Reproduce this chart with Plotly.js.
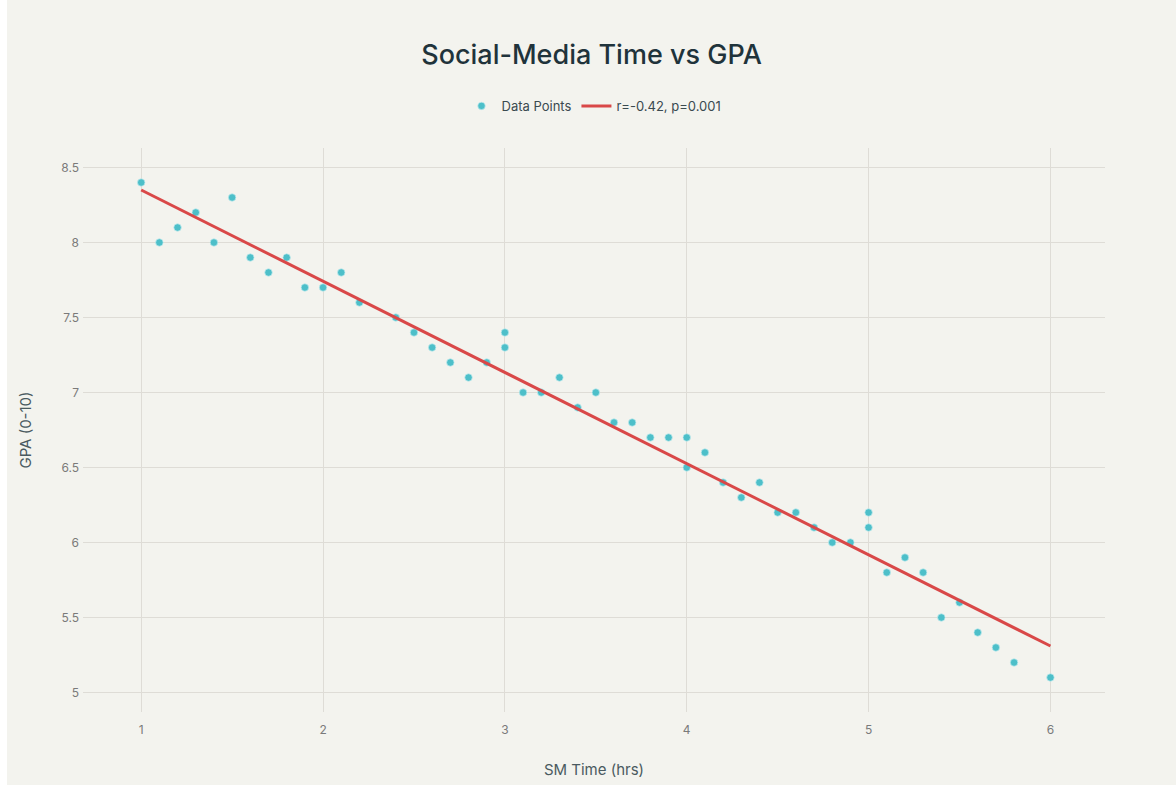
<!DOCTYPE html>
<html>
<head>
<meta charset="utf-8">
<script src="https://cdn.plot.ly/plotly-3.0.1.min.js"></script>
<style>
  html, body { margin: 0; padding: 0; background: #ffffff; }
  #chart { position: absolute; left: 7px; top: 0; width: 1169px; height: 785px; }
</style>
</head>
<body>
<div id="chart"></div>
<script>
// Social-media time (hours) per student
const smTime = [1.0, 1.1, 1.2, 1.3, 1.4, 1.5, 1.6, 1.7, 1.8, 1.9, 2.0, 2.1, 2.2, 2.4, 2.5, 2.6, 2.7, 2.8, 2.9, 3.0, 3.0,
                3.1, 3.2, 3.3, 3.4, 3.5, 3.6, 3.7, 3.8, 3.9, 4.0, 4.0, 4.1, 4.2, 4.3, 4.4, 4.5, 4.6, 4.7, 4.8, 4.9,
                5.0, 5.0, 5.1, 5.2, 5.3, 5.4, 5.5, 5.6, 5.7, 5.8, 6.0];
// GPA (0-10) per student
const gpa = [8.4, 8.0, 8.1, 8.2, 8.0, 8.3, 7.9, 7.8, 7.9, 7.7, 7.7, 7.8, 7.6, 7.5, 7.4, 7.3, 7.2, 7.1, 7.2, 7.4, 7.3,
             7.0, 7.0, 7.1, 6.9, 7.0, 6.8, 6.8, 6.7, 6.7, 6.7, 6.5, 6.6, 6.4, 6.3, 6.4, 6.2, 6.2, 6.1, 6.0, 6.0,
             6.2, 6.1, 5.8, 5.9, 5.8, 5.5, 5.6, 5.4, 5.3, 5.2, 5.1];
// Fitted trend line endpoints
const trendX = [1, 6];
const trendY = [8.35, 5.31];
const trendLabel = "r=-0.42, p=0.001";
const xTicks = [1, 2, 3, 4, 5, 6];
const yTicks = [5, 5.5, 6, 6.5, 7, 7.5, 8, 8.5];

const font = "Inter, 'Liberation Sans', Arial, sans-serif";

const traces = [
  {
    x: smTime, y: gpa, type: "scatter", mode: "markers", name: "Data Points",
    marker: { color: "#4DBFC9", size: 7.5, line: { width: 1, color: "rgba(200,236,240,0.7)" } }
  },
  {
    x: trendX, y: trendY, type: "scatter", mode: "lines", name: trendLabel,
    line: { color: "#D94848", width: 3 }
  }
];

const layout = {
  width: 1169, height: 785,
  paper_bgcolor: "#F3F3EE", plot_bgcolor: "#F3F3EE",
  font: { family: font, color: "#3a4a50", size: 13 },
  margin: { l: 76, r: 71, t: 148, b: 73 },
  title: { text: "Social-Media Time vs GPA", x: 0.5, xanchor: "center", y: 0.93, yanchor: "middle",
           font: { family: font, size: 27, color: "#1f333b", weight: 500 } },
  showlegend: true,
  legend: { orientation: "h", x: 0.5, xanchor: "center", y: 1.048, yanchor: "bottom",
            font: { family: font, size: 13, color: "#3a4a50" }, bgcolor: "rgba(0,0,0,0)" },
  xaxis: {
    range: [0.68, 6.30], tickvals: xTicks, showgrid: true, gridcolor: "#dedcd6", gridwidth: 1,
    zeroline: false, showline: false, ticks: "", ticklabelstandoff: 9,
    tickfont: { size: 12, color: "#7a7a7a" },
    title: { text: "SM Time (hrs)", font: { size: 15, color: "#4a5a60" }, standoff: 28 }
  },
  yaxis: {
    range: [4.87, 8.63], tickvals: yTicks, showgrid: true, gridcolor: "#dedcd6", gridwidth: 1,
    zeroline: false, showline: false, ticks: "", ticklabelstandoff: 3,
    tickfont: { size: 12, color: "#7a7a7a" },
    title: { text: "GPA (0-10)", font: { size: 15, color: "#4a5a60" }, standoff: 26 }
  }
};

Plotly.newPlot("chart", traces, layout, { displayModeBar: false, responsive: false });
</script>
</body>
</html>
